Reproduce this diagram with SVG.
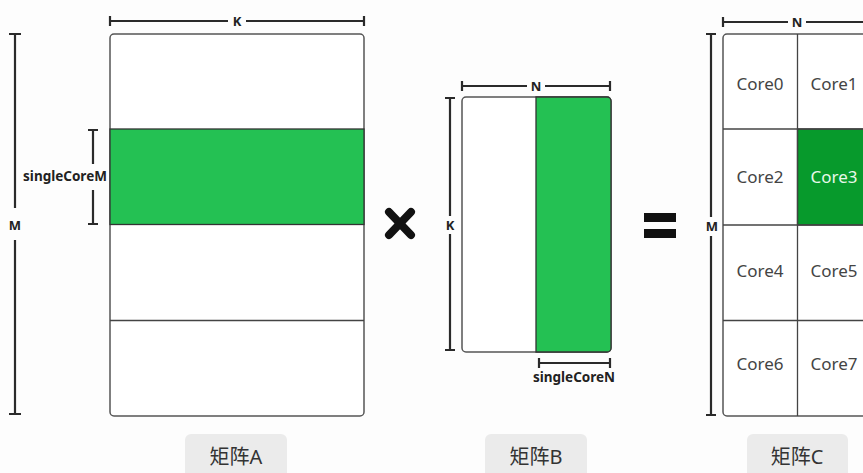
<svg xmlns="http://www.w3.org/2000/svg" width="863" height="473" viewBox="0 0 863 473">
<defs>
<style>
.bg{fill:#fdfdfd}
.box{fill:#ffffff;stroke:#555;stroke-width:1.5}
.grid{stroke:#444;stroke-width:1.3;fill:none}
.green{fill:#24c153;stroke:#333;stroke-width:1.3}
.dark{fill:#079a2c;stroke:#333;stroke-width:1.3}
.dim{stroke:#2a2a2a;stroke-width:2.2;fill:none}
.dl{font-family:"Noto Sans","Open Sans",sans-serif;font-weight:bold;font-size:13px;fill:#222;text-anchor:middle}
.sl{font-size:13.5px}
.core{font-family:"Noto Sans","Open Sans",sans-serif;font-size:17px;fill:#444;text-anchor:middle}
.tag{fill:#ebebeb}
.tagt{font-family:"Noto Sans","Noto Sans CJK SC",sans-serif;font-size:20px;fill:#333;text-anchor:middle}
</style>
</defs>
<rect class="bg" x="0" y="0" width="863" height="473"/>

<g id="matrixA">
<rect class="box" x="110" y="34" width="254" height="382" rx="4"/>
<rect class="green" x="110" y="129" width="254" height="95.5"/>
<line class="grid" x1="110" y1="320.5" x2="364" y2="320.5"/>
</g>

<g id="matrixB">
<rect class="box" x="462" y="97" width="149" height="255" rx="4"/>
<path class="green" d="M536,97 H607 A4,4 0 0 1 611,101 V348 A4,4 0 0 1 607,352 H536 Z"/>
</g>

<g id="matrixC">
<rect class="box" x="723" y="34" width="160" height="382" rx="4"/>
<rect class="dark" x="797.5" y="129" width="80" height="96"/>
<line class="grid" x1="797.5" y1="34" x2="797.5" y2="416"/>
<line class="grid" x1="723" y1="129" x2="863" y2="129"/>
<line class="grid" x1="723" y1="225" x2="863" y2="225"/>
<line class="grid" x1="723" y1="320.5" x2="863" y2="320.5"/>
<text class="core" x="760" y="90">Core0</text>
<text class="core" x="834" y="90">Core1</text>
<text class="core" x="760" y="183">Core2</text>
<text class="core" x="834" y="183" style="fill:#e8f8ea">Core3</text>
<text class="core" x="760" y="277">Core4</text>
<text class="core" x="834" y="277">Core5</text>
<text class="core" x="760" y="370">Core6</text>
<text class="core" x="834" y="370">Core7</text>
</g>

<g id="operators">
<line x1="389" y1="212" x2="411" y2="235" stroke="#111" stroke-width="8" stroke-linecap="round"/>
<line x1="411" y1="212" x2="389" y2="235" stroke="#111" stroke-width="8" stroke-linecap="round"/>
<rect x="644" y="213" width="32" height="9" fill="#111"/>
<rect x="644" y="229" width="32" height="9" fill="#111"/>
</g>

<g id="dimensions">
<path class="dim" d="M110,21 H228 M246,21 H364 M110,16 V26 M364,16 V26"/>
<text class="dl" x="237" y="26">K</text>
<path class="dim" d="M15,34 V208 M15,240 V414 M9,34 H21 M9,414 H21"/>
<text class="dl" x="15" y="230">M</text>
<path class="dim" d="M93,130 V164 M93,190 V224 M88,130 H98 M88,224 H98"/>
<text class="dl sl" x="65" y="181">singleCoreM</text>
<path class="dim" d="M462,86 H527 M545,86 H610 M462,81 V91 M610,81 V91"/>
<text class="dl" x="536" y="91">N</text>
<path class="dim" d="M450,98 V216 M450,234 V350 M445,98 H455 M445,350 H455"/>
<text class="dl" x="450" y="230">K</text>
<path class="dim" d="M539,363 H610 M539,358 V368 M610,358 V368"/>
<text class="dl sl" x="574" y="382">singleCoreN</text>
<path class="dim" d="M723,22 H788 M806,22 H863 M723,17 V27"/>
<text class="dl" x="797" y="27">N</text>
<path class="dim" d="M711,34 V217 M711,236 V415 M706,34 H716 M706,415 H716"/>
<text class="dl" x="712" y="231">M</text>
</g>

<g id="labelA">
<rect class="tag" x="185" y="434" width="102" height="46" rx="6"/>
<text class="tagt" x="236" y="464">矩阵A</text>
</g>
<g id="labelB">
<rect class="tag" x="485" y="434" width="102" height="46" rx="6"/>
<text class="tagt" x="536" y="464">矩阵B</text>
</g>
<g id="labelC">
<rect class="tag" x="747" y="434" width="101" height="46" rx="6"/>
<text class="tagt" x="797" y="464">矩阵C</text>
</g>
</svg>
